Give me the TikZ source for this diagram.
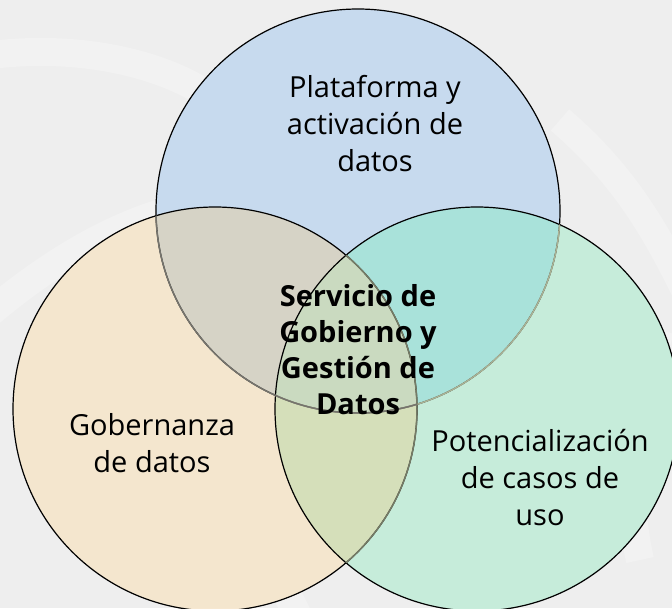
\documentclass[tikz,border=0pt]{standalone}
\usepackage{fontspec}
\setmainfont{Open Sans}
\definecolor{bgc}{RGB}{238,238,238}
\definecolor{cblue}{RGB}{197,217,238}
\definecolor{corange}{RGB}{245,230,205}
\definecolor{cgreen}{RGB}{196,236,217}
\definecolor{ctl}{RGB}{214,211,198}
\definecolor{ctr}{RGB}{169,226,218}
\definecolor{clr}{RGB}{213,223,186}
\definecolor{call}{RGB}{202,218,192}
\tikzset{
  ring/.style={draw=black, line width=1.2pt},
  fadering/.style={draw=black, draw opacity=0.6, line width=1.1pt},
  lbl/.style={align=center, font=\fontsize{29}{37}\selectfont, inner sep=0pt},
  clbl/.style={align=center, font=\fontsize{29}{36}\selectfont\bfseries, inner sep=0pt},
  wm/.style={white, opacity=0.25, line width=28pt}
}
\begin{document}
\begin{tikzpicture}[x=1pt,y=-1pt]
\fill[bgc] (0,0) rectangle (672,608);
\useasboundingbox (0,0) rectangle (672,608);
% faint watermark
\begin{scope}
\clip (0,0) rectangle (672,608);
\draw[wm] (-40,60) .. controls (60,40) and (150,60) .. (200,90);
\draw[wm] (-30,330) .. controls (60,250) and (140,210) .. (220,200);
\draw[wm] (560,120) .. controls (630,180) and (660,240) .. (690,300);
\draw[wm] (660,330) .. controls (640,400) and (620,470) .. (640,560);
\draw[wm] (240,500) .. controls (260,540) and (280,580) .. (300,620);
\end{scope}
\coordinate (ct) at (358,211);
\coordinate (cl) at (215,409);
\coordinate (cr) at (477,409);
% base discs
\fill[cblue, fill opacity=0.95] (ct) circle[radius=202];
\fill[corange, fill opacity=0.95] (cl) circle[radius=202];
\fill[cgreen, fill opacity=0.95] (cr) circle[radius=202];
% pairwise overlaps
\begin{scope}
\clip (ct) circle[radius=202];
\fill[ctl] (cl) circle[radius=202];
\fill[ctr] (cr) circle[radius=202];
\end{scope}
\begin{scope}
\clip (cl) circle[radius=202];
\fill[clr] (cr) circle[radius=202];
\clip (ct) circle[radius=202];
\fill[call] (cr) circle[radius=202];
\end{scope}
% outlines
\draw[ring] (ct) circle[radius=202];
\draw[ring] (cl) circle[radius=202];
\draw[ring] (cr) circle[radius=202];
\begin{scope}
\clip (cr) circle[radius=202];
\draw[line width=1.5pt, draw=clr!80!black] (ct) circle[radius=202];
\draw[line width=1.5pt, draw=clr!55!black] (cl) circle[radius=202];
\end{scope}
\begin{scope}
\clip (cl) circle[radius=202];
\draw[line width=1.5pt, draw=ctl!55!black] (ct) circle[radius=202];
\end{scope}
\node[lbl] (top) at (375,124) {Plataforma y\\activación de\\datos};
\node[lbl] (left) at (152,443) {Gobernanza\\de datos};
\node[lbl] (right) at (540,478) {Potencialización\\de casos de\\uso};
\node[clbl] (center) at (358,350) {Servicio de\\Gobierno y\\Gestión de\\Datos};
\end{tikzpicture}
\end{document}
